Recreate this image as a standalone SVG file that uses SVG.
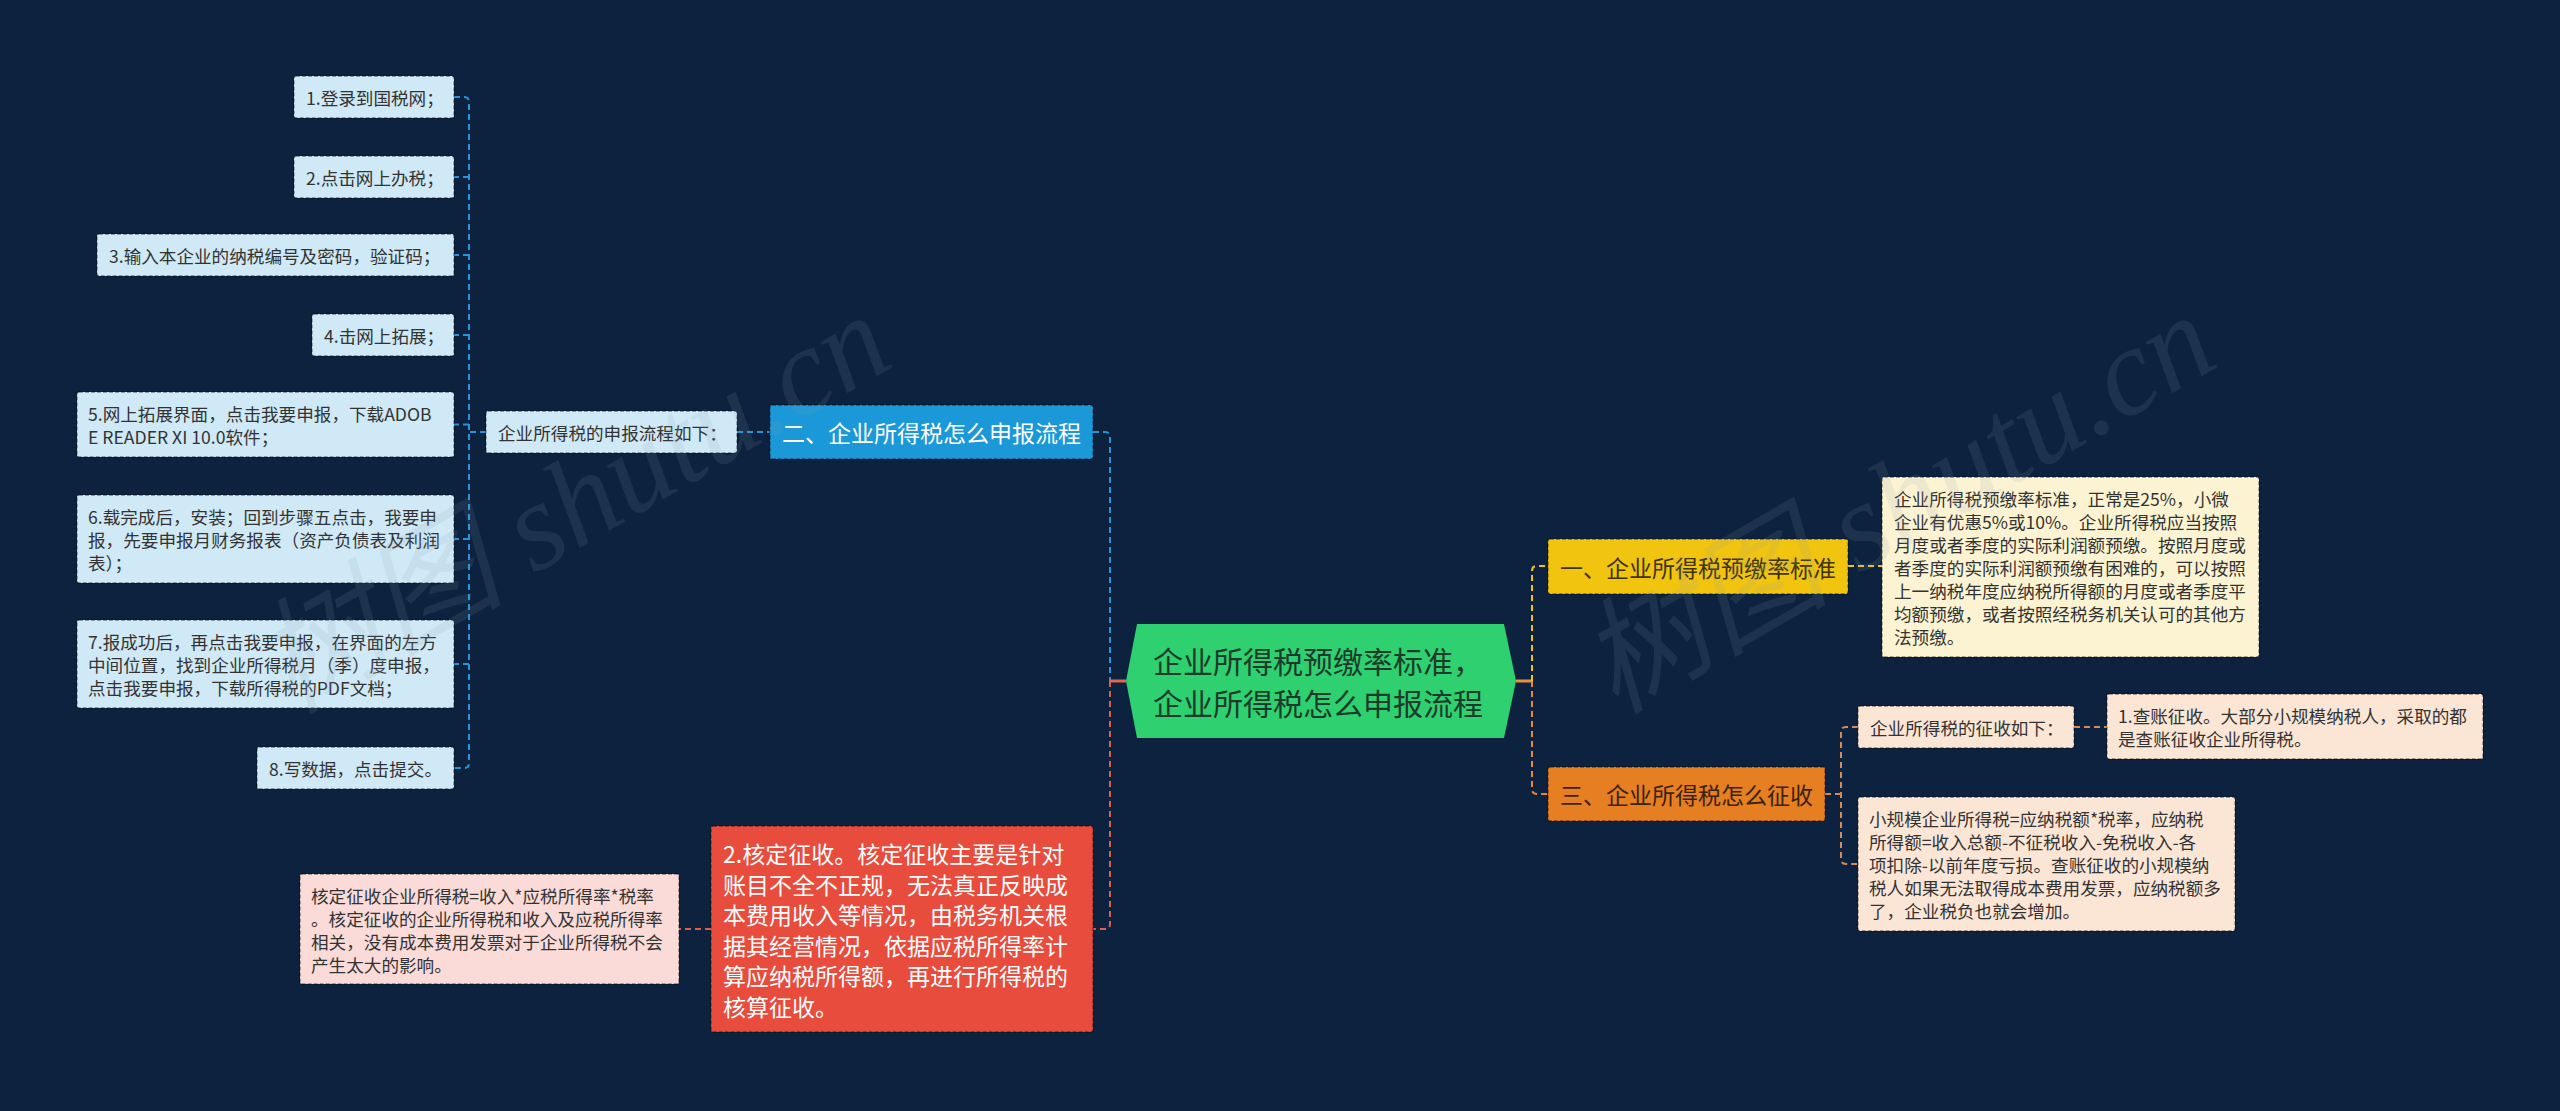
<svg xmlns="http://www.w3.org/2000/svg" width="2560" height="1111" viewBox="0 0 2560 1111">
<style>
text{font-family:"Noto Sans CJK SC","Noto Sans",sans-serif;dominant-baseline:central}
.leaf{font-size:17.6px;fill:#333333}
.bx{stroke:rgba(0,0,0,0.45);stroke-width:1.3;stroke-dasharray:4 2}
.lb{fill:#cfe9f6}
.pk{fill:#fadbd8}
.cr{fill:#fcf3d2}
.pe{fill:#fbe5d5}
.c{fill:none;stroke-width:2;stroke-dasharray:6 4}
.cb{stroke:#2a92d8}
.crd{stroke:#d8604f}
.cy{stroke:#f1c40f}
.co{stroke:#e3893c}
.cp{stroke:#d48b55}
.h1{font-size:23px}
.wm{font-family:"Liberation Serif","Noto Sans CJK SC",serif;font-style:italic;font-size:125px;fill:#8fa0b5;opacity:0.13;dominant-baseline:alphabetic}
</style>
<rect width="2560" height="1111" fill="#0c223e"/>

<g id="connectors">
  <!-- left leaf trunk -->
  <path class="c cb" d="M454 97 H464 Q469 97 469 102 V763 Q469 768 464 768 H454"/>
  <path class="c cb" d="M469 177 H454 M469 255 H454 M469 335 H454 M469 424.5 H454 M469 539 H454 M469 664 H454"/>
  <path class="c cb" d="M486 432 H469"/>
  <path class="c cb" d="M737 432 H770"/>
  <!-- center left -->
  <path class="c cb" d="M1093 432 H1105 Q1110 432 1110 437 V681"/>
  <path class="c crd" d="M1110 681 V924 Q1110 929 1105 929 H1093"/>
  <path d="M1126 681 H1110" stroke="#e06a50" stroke-width="3" fill="none"/>
  <path class="c crd" d="M711 929 H679"/>
  <!-- center right -->
  <path d="M1516 681 H1532" stroke="#e8913e" stroke-width="3" fill="none"/>
  <path class="c cy" d="M1532 681 V571 Q1532 566 1537 566 H1548"/>
  <path class="c co" d="M1532 681 V789 Q1532 794 1537 794 H1548"/>
  <path class="c cy" d="M1848 566 H1882"/>
  <!-- orange children -->
  <path class="c cp" d="M1825 794 H1841"/>
  <path class="c cp" d="M1858 727 H1846 Q1841 727 1841 732 V859 Q1841 864 1846 864 H1858"/>
  <path class="c cp" d="M2074 727 H2107"/>
</g>

<g id="center">
  <path d="M1137 624 H1504 L1516 681 L1504 738 H1137 L1126 681 Z" fill="#2ed070"/>
  <text x="1153" y="660" font-size="30" fill="#1d3b2a">企业所得税预缴率标准，</text>
  <text x="1153" y="702" font-size="30" fill="#1d3b2a">企业所得税怎么申报流程</text>
</g>

<g id="n-blue">
  <rect class="bx" x="770" y="405" width="323" height="54" rx="2" fill="#1a98d8"/>
  <text class="h1" x="782" y="432" fill="#ffffff">二、企业所得税怎么申报流程</text>
</g>
<g id="n-sbflow">
  <rect class="bx lb" x="486" y="411" width="251" height="42" rx="2"/>
  <text class="leaf" x="498" y="432">企业所得税的申报流程如下：</text>
</g>
<g id="leaf1">
  <rect class="bx lb" x="294" y="76" width="160" height="42" rx="2"/>
  <text class="leaf" x="306" y="97">1.登录到国税网；</text>
</g>
<g id="leaf2">
  <rect class="bx lb" x="294" y="156" width="160" height="42" rx="2"/>
  <text class="leaf" x="306" y="177">2.点击网上办税；</text>
</g>
<g id="leaf3">
  <rect class="bx lb" x="97" y="234" width="357" height="42" rx="2"/>
  <text class="leaf" x="109" y="255">3.输入本企业的纳税编号及密码，验证码；</text>
</g>
<g id="leaf4">
  <rect class="bx lb" x="312" y="314" width="142" height="42" rx="2"/>
  <text class="leaf" x="324" y="335">4.击网上拓展；</text>
</g>
<g id="leaf5">
  <rect class="bx lb" x="77" y="392" width="377" height="65" rx="2"/>
  <text class="leaf" x="88"><tspan x="88" y="413">5.网上拓展界面，点击我要申报，下载ADOB</tspan><tspan x="88" y="436">E READER XI 10.0软件；</tspan></text>
</g>
<g id="leaf6">
  <rect class="bx lb" x="77" y="495" width="377" height="88" rx="2"/>
  <text class="leaf" x="88"><tspan x="88" y="516">6.载完成后，安装；回到步骤五点击，我要申</tspan><tspan x="88" y="539">报，先要申报月财务报表（资产负债表及利润</tspan><tspan x="88" y="562">表）；</tspan></text>
</g>
<g id="leaf7">
  <rect class="bx lb" x="77" y="620" width="377" height="88" rx="2"/>
  <text class="leaf" x="88"><tspan x="88" y="641">7.报成功后，再点击我要申报，在界面的左方</tspan><tspan x="88" y="664">中间位置，找到企业所得税月（季）度申报，</tspan><tspan x="88" y="687">点击我要申报，下载所得税的PDF文档；</tspan></text>
</g>
<g id="leaf8">
  <rect class="bx lb" x="257" y="747" width="197" height="42" rx="2"/>
  <text class="leaf" x="269" y="768">8.写数据，点击提交。</text>
</g>

<g id="n-red">
  <rect class="bx" x="711" y="826" width="382" height="206" rx="2" fill="#e74c3c"/>
  <text x="723" font-size="23" fill="#ffffff"><tspan x="723" y="853">2.核定征收。核定征收主要是针对</tspan><tspan x="723" y="883.5">账目不全不正规，无法真正反映成</tspan><tspan x="723" y="914">本费用收入等情况，由税务机关根</tspan><tspan x="723" y="944.5">据其经营情况，依据应税所得率计</tspan><tspan x="723" y="975">算应纳税所得额，再进行所得税的</tspan><tspan x="723" y="1005.5">核算征收。</tspan></text>
</g>
<g id="n-pink">
  <rect class="bx pk" x="300" y="874" width="379" height="110" rx="2"/>
  <text class="leaf" x="311"><tspan x="311" y="895">核定征收企业所得税=收入*应税所得率*税率</tspan><tspan x="311" y="918">。核定征收的企业所得税和收入及应税所得率</tspan><tspan x="311" y="941">相关，没有成本费用发票对于企业所得税不会</tspan><tspan x="311" y="964">产生太大的影响。</tspan></text>
</g>

<g id="n-yellow">
  <rect class="bx" x="1548" y="539" width="300" height="55" rx="2" fill="#f1c40f"/>
  <text class="h1" x="1560" y="566.5" fill="#3e3300">一、企业所得税预缴率标准</text>
</g>
<g id="n-yellow-detail">
  <rect class="bx cr" x="1882" y="477" width="377" height="180" rx="2"/>
  <text class="leaf" x="1894"><tspan x="1894" y="498">企业所得税预缴率标准，正常是25%，小微</tspan><tspan x="1894" y="521">企业有优惠5%或10%。企业所得税应当按照</tspan><tspan x="1894" y="544">月度或者季度的实际利润额预缴。按照月度或</tspan><tspan x="1894" y="567">者季度的实际利润额预缴有困难的，可以按照</tspan><tspan x="1894" y="590">上一纳税年度应纳税所得额的月度或者季度平</tspan><tspan x="1894" y="613">均额预缴，或者按照经税务机关认可的其他方</tspan><tspan x="1894" y="636">法预缴。</tspan></text>
</g>

<g id="n-orange">
  <rect class="bx" x="1548" y="767" width="277" height="54" rx="2" fill="#e67e22"/>
  <text class="h1" x="1560" y="794" fill="#3b2208">三、企业所得税怎么征收</text>
</g>
<g id="n-zs">
  <rect class="bx pe" x="1858" y="706" width="216" height="42" rx="2"/>
  <text class="leaf" x="1870" y="727">企业所得税的征收如下：</text>
</g>
<g id="n-cz">
  <rect class="bx pe" x="2107" y="694" width="376" height="65" rx="2"/>
  <text class="leaf" x="2118"><tspan x="2118" y="715">1.查账征收。大部分小规模纳税人，采取的都</tspan><tspan x="2118" y="738">是查账征收企业所得税。</tspan></text>
</g>
<g id="n-xgm">
  <rect class="bx pe" x="1858" y="797" width="377" height="134" rx="2"/>
  <text class="leaf" x="1869"><tspan x="1869" y="818">小规模企业所得税=应纳税额*税率，应纳税</tspan><tspan x="1869" y="841">所得额=收入总额-不征税收入-免税收入-各</tspan><tspan x="1869" y="864">项扣除-以前年度亏损。查账征收的小规模纳</tspan><tspan x="1869" y="887">税人如果无法取得成本费用发票，应纳税额多</tspan><tspan x="1869" y="910">了，企业税负也就会增加。</tspan></text>
</g>

<g id="watermarks">
  <text class="wm" transform="translate(290 715) rotate(-30)">树图 shutu.cn</text>
  <text class="wm" transform="translate(1615 715) rotate(-30)">树图 shutu.cn</text>
</g>
</svg>
